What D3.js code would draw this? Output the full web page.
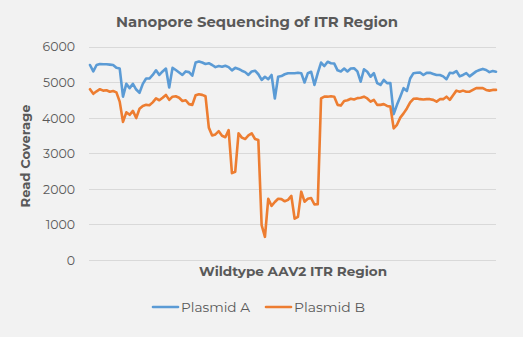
<!DOCTYPE html>
<html><head><meta charset="utf-8">
<script src="https://cdn.jsdelivr.net/npm/d3@7"></script>
<style>html,body{margin:0;padding:0;background:#f2f2f2;}svg{display:block;}</style>
</head><body><svg id="c" width="523" height="337"></svg>
<script>
const title = "Nanopore Sequencing of ITR Region";
const xTitle = "Wildtype AAV2 ITR Region";
const yTitle = "Read Coverage";
const yTicks = [0, 1000, 2000, 3000, 4000, 5000, 6000];
const seriesNames = ["Plasmid A", "Plasmid B"];
const plasmidA = [5480,5300,5480,5510,5500,5500,5490,5480,5400,5380,
  4590,4950,4830,4950,4790,4700,4950,5100,5100,5200,
  5330,5200,5300,5380,4850,5400,5340,5270,5200,5300,
  5280,5180,5550,5580,5550,5510,5530,5480,5420,5450,
  5430,5460,5420,5330,5400,5370,5320,5280,5200,5300,
  5320,5220,5060,5150,5080,5200,4540,5150,5170,5220,
  5250,5250,5250,5260,5250,4990,5250,5290,4920,5250,
  5550,5450,5570,5530,5520,5330,5300,5380,5300,5380,
  5390,5300,5010,5360,5290,5150,5250,4970,4920,5060,
  4970,4970,4100,4360,4590,4830,4750,5100,5250,5260,
  5270,5200,5260,5260,5230,5200,5200,5160,5080,5260,
  5250,5310,5160,5200,5250,5160,5230,5300,5340,5370,
  5340,5280,5310,5290];
const plasmidB = [4800,4670,4740,4800,4760,4770,4730,4750,4710,4450,
  3880,4150,4080,4190,3990,4250,4330,4360,4350,4430,
  4540,4490,4560,4640,4500,4590,4600,4560,4470,4490,
  4380,4360,4630,4660,4640,4600,3720,3500,3530,3620,
  3490,3450,3650,2440,2480,3560,3440,3400,3500,3560,
  3400,3370,980,650,1720,1520,1630,1720,1710,1650,
  1690,1800,1160,1210,1920,1640,1720,1740,1560,1570,
  4540,4590,4590,4600,4590,4360,4340,4470,4490,4530,
  4510,4550,4560,4590,4540,4450,4500,4360,4360,4380,
  4330,4310,3700,3800,4000,4120,4260,4430,4530,4540,
  4520,4510,4520,4520,4500,4450,4520,4520,4590,4500,
  4630,4760,4730,4760,4730,4730,4780,4830,4830,4830,
  4780,4760,4780,4780];
const positions = plasmidA.map((d, i) => i + 1);
const colors = ["#5b9bd5", "#ed7d31"];

const svg = d3.select("#c");
const font = "Montserrat, 'Open Sans', Lato, sans-serif";
const textCol = "#595959";
svg.append("rect").attr("width", 523).attr("height", 337).attr("fill", "#f2f2f2");

const x = d3.scaleLinear().domain([1, positions.length]).range([90, 496]);
const y = d3.scaleLinear().domain([0, 6000]).range([260, 46.5]);

// gridlines
svg.append("g").selectAll("line").data(yTicks).join("line")
  .attr("x1", 89).attr("x2", 496)
  .attr("y1", d => Math.round(y(d)) + 0.5).attr("y2", d => Math.round(y(d)) + 0.5)
  .attr("stroke", "#d9d9d9").attr("stroke-width", 1);

// y axis labels
const yAxis = d3.axisLeft(y).tickValues(yTicks).tickSize(0).tickPadding(0).tickFormat(d3.format("d"));
const ya = svg.append("g").attr("transform", "translate(75,0)").call(yAxis);
ya.select(".domain").remove();
ya.selectAll("text").attr("font-family", font).attr("font-size", 12.5).attr("fill", textCol).attr("dy", "0.35em");

// lines
const line = d3.line().x((d, i) => x(positions[i])).y(d => y(d)).curve(d3.curveLinear);
[plasmidA, plasmidB].forEach((s, k) => {
  svg.append("path").datum(s).attr("d", line).attr("fill", "none")
    .attr("stroke", colors[k]).attr("stroke-width", 2.6).attr("stroke-linejoin", "round").attr("stroke-linecap", "round");
});

// titles
svg.append("text").attr("x", 257).attr("y", 27).attr("text-anchor", "middle")
  .attr("font-family", font).attr("font-weight", "bold").attr("font-size", 14).attr("fill", textCol)
  .attr("textLength", 282).attr("lengthAdjust", "spacingAndGlyphs").text(title);
svg.append("text").attr("x", 293).attr("y", 276).attr("text-anchor", "middle")
  .attr("font-family", font).attr("font-weight", "bold").attr("font-size", 13).attr("fill", textCol)
  .attr("textLength", 188).attr("lengthAdjust", "spacingAndGlyphs").text(xTitle);
svg.append("text").attr("transform", "translate(30,156) rotate(-90)").attr("text-anchor", "middle")
  .attr("font-family", font).attr("font-weight", "bold").attr("font-size", 13).attr("fill", textCol)
  .attr("textLength", 103).attr("lengthAdjust", "spacingAndGlyphs").text(yTitle);

// legend
const leg = [{x0: 153, tx: 181, w: 69}, {x0: 266, tx: 294, w: 71}];
seriesNames.forEach((n, k) => {
  svg.append("line").attr("x1", leg[k].x0).attr("x2", leg[k].x0 + 25).attr("y1", 307).attr("y2", 307)
    .attr("stroke", colors[k]).attr("stroke-width", 2.6).attr("stroke-linecap", "round");
  svg.append("text").attr("x", leg[k].tx).attr("y", 312).attr("font-family", font).attr("font-size", 13.5)
    .attr("fill", textCol).attr("textLength", leg[k].w).attr("lengthAdjust", "spacingAndGlyphs").text(n);
});
</script></body></html>
